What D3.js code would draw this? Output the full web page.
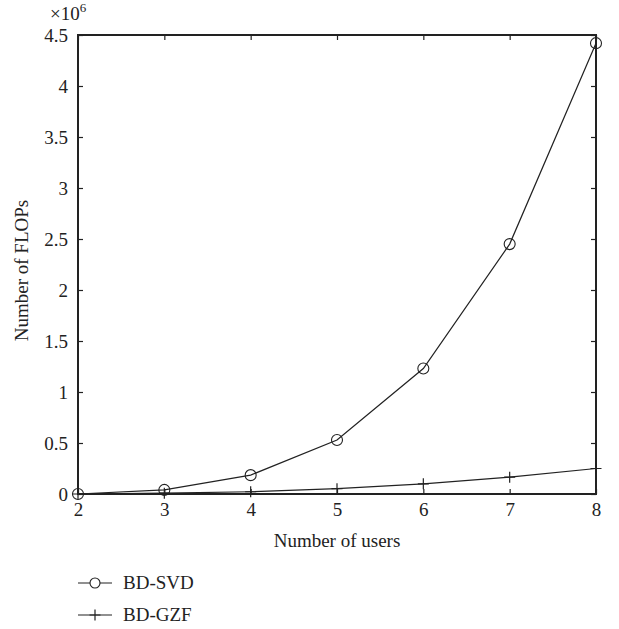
<!DOCTYPE html>
<html>
<head>
<meta charset="utf-8">
<script src="https://cdn.jsdelivr.net/npm/d3@7"></script>
<style>
  body { margin: 0; background: #fff; }
  text { font-family: "Liberation Serif", "DejaVu Serif", serif; fill: #222; }
</style>
</head>
<body>
<div id="chart"></div>
<script>
// data (FLOPs in units of 1e6)
var users = [2, 3, 4, 5, 6, 7, 8]
var svdFlops = [0, 0.04, 0.185, 0.53, 1.23, 2.45, 4.42]
var gzfFlops = [0, 0.008, 0.022, 0.052, 0.1, 0.165, 0.25]
var yTicks = [0, 0.5, 1, 1.5, 2, 2.5, 3, 3.5, 4, 4.5]
var seriesNames = ["BD-SVD", "BD-GZF"]

var width = 619
height = 629
var margin = { top: 35, right: 23, bottom: 135, left: 78 }
var iw = width - margin.left - margin.right
var ih = height - margin.top - margin.bottom
var fs = "19px"

var svg = d3.select("#chart")
    .append("svg")
    .attr("width", width)
    .attr("height", height)

var g = svg.append("g")
    .attr("transform", "translate(" + margin.left + "," + margin.top + ")")

var x = d3.scaleLinear().domain([2, 8]).range([0, iw])
var y = d3.scaleLinear().domain([0, 4.5]).range([ih, 0])

// inward ticks on all four sides
var tickLen = 5
g.append("g").attr("transform", "translate(0," + ih + ")")
    .call(d3.axisBottom(x).ticks(6).tickSize(-tickLen).tickPadding(9).tickFormat(d3.format("d")))
g.append("g").call(d3.axisTop(x).ticks(6).tickSize(-tickLen).tickFormat(""))
g.append("g")
    .call(d3.axisLeft(y).tickValues(yTicks).tickSize(-tickLen).tickPadding(10).tickFormat(function (d) { return d }))
g.append("g").attr("transform", "translate(" + iw + ",0)")
    .call(d3.axisRight(y).tickValues(yTicks).tickSize(-tickLen).tickFormat(""))

g.selectAll(".domain").remove()
g.selectAll(".tick line").attr("stroke", "#222").attr("stroke-width", 1.2)
g.selectAll(".tick text").style("font-size", fs).attr("fill", "#222")

// box
g.append("rect")
    .attr("width", iw).attr("height", ih)
    .attr("fill", "none").attr("stroke", "#222").attr("stroke-width", 2)

// multiplier
var mult = svg.append("text").attr("x", 50).attr("y", 20).style("font-size", fs)
mult.append("tspan").text("×10")
mult.append("tspan").attr("dy", -8).style("font-size", "13px").text("6")

var line = d3.line()
    .x(function (d, i) { return x(users[i]) })
    .y(function (d) { return y(d) })

g.append("path").datum(svdFlops).attr("d", line)
    .attr("fill", "none").attr("stroke", "#222").attr("stroke-width", 1.2)
g.append("path").datum(gzfFlops).attr("d", line)
    .attr("fill", "none").attr("stroke", "#222").attr("stroke-width", 1.2)

g.selectAll(".svdpt").data(svdFlops).enter().append("circle")
    .attr("cx", function (d, i) { return x(users[i]) })
    .attr("cy", function (d) { return y(d) })
    .attr("r", 5.5)
    .attr("fill", "none").attr("stroke", "#222").attr("stroke-width", 1.1)

function plusPath(s) { return "M" + (-s) + ",0H" + s + "M0," + (-s) + "V" + s }
g.selectAll(".gzfpt").data(gzfFlops).enter().append("path")
    .attr("transform", function (d, i) { return "translate(" + x(users[i]) + "," + y(d) + ")" })
    .attr("d", plusPath(5.5))
    .attr("fill", "none").attr("stroke", "#222").attr("stroke-width", 1.2)

// axis titles
svg.append("text")
    .attr("x", margin.left + iw / 2).attr("y", 547)
    .attr("text-anchor", "middle").style("font-size", fs)
    .text("Number of users")
svg.append("text")
    .attr("transform", "translate(28," + (margin.top + ih / 2 + 6) + ") rotate(-90)")
    .attr("text-anchor", "middle").style("font-size", fs)
    .text("Number of FLOPs")

// legend
var leg = svg.append("g").attr("transform", "translate(78,583)")
seriesNames.forEach(function (name, i) {
    var row = leg.append("g").attr("transform", "translate(0," + (i * 32) + ")")
    row.append("line").attr("x1", 0).attr("x2", 34).attr("y1", 0).attr("y2", 0)
        .attr("stroke", "#222").attr("stroke-width", 1.2)
    if (i == 0) {
        row.append("circle").attr("cx", 17).attr("cy", 0).attr("r", 5)
            .attr("fill", "#fff").attr("stroke", "#222").attr("stroke-width", 1.1)
    } else {
        row.append("path").attr("transform", "translate(17,0)").attr("d", plusPath(5.5))
            .attr("stroke", "#222").attr("stroke-width", 1.2).attr("fill", "none")
    }
    row.append("text").attr("x", 45).attr("y", 6).style("font-size", fs).text(name)
})
</script>
</body>
</html>
